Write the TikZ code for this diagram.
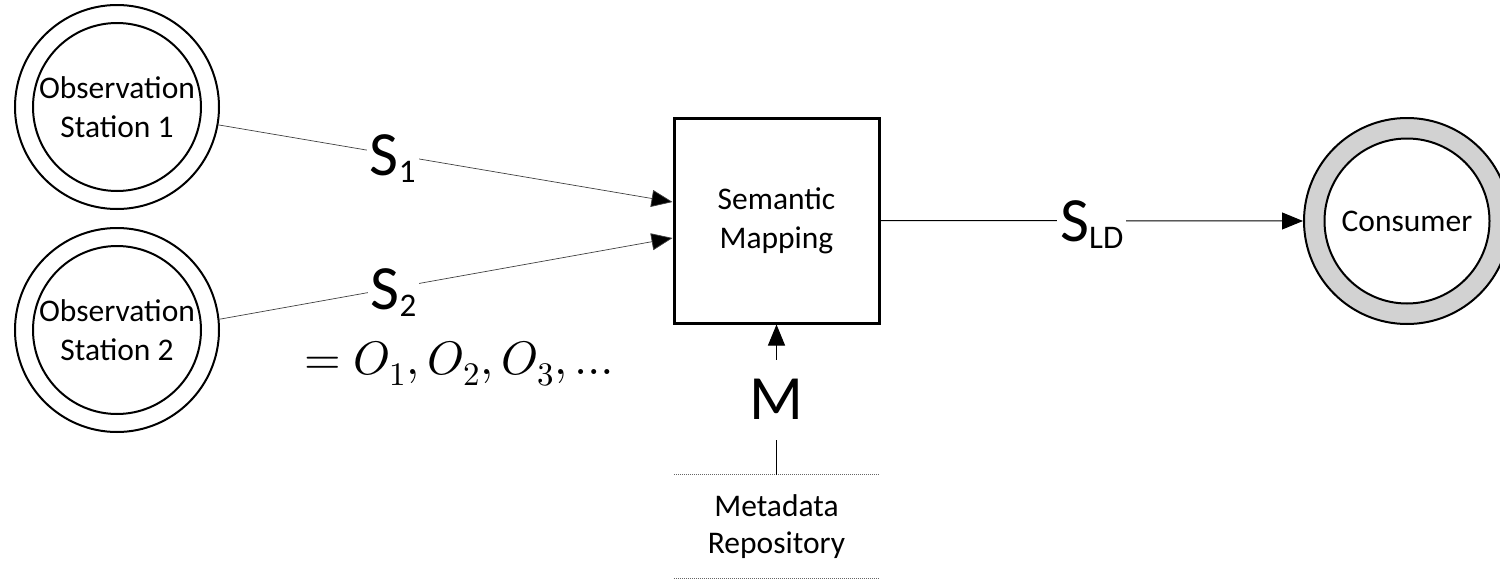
\documentclass[tikz,border=0pt]{standalone}
\usepackage{fontspec}
\usepackage{unicode-math}
\setmainfont{Carlito}
\usetikzlibrary{arrows.meta,calc}

\definecolor{ringgray}{RGB}{210,210,210}
\newcommand\lowsub[1]{\raisebox{-7pt}{\fontsize{33}{33}\selectfont #1}}

\begin{document}
\begin{tikzpicture}[x=1pt,y=-1pt,
  every node/.style={font=\fontsize{31.5}{39}\selectfont, align=center},
  ring/.style={circle, draw, line width=2pt, minimum size=#1, inner sep=0pt},
  procbox/.style={draw, line width=3pt, minimum width=205pt, minimum height=205pt, inner sep=0pt},
  tip/.style={-{Triangle[length=21pt,width=17pt,fill=black]}},
  flow/.style={tip, line width=1pt},
  thinflow/.style={tip, line width=0.7pt, draw=black!75},
  slabel/.style={fill=white, inner sep=3pt, anchor=base, yshift=-21pt, font=\fontsize{63}{63}\selectfont},
  mlabel/.style={fill=white, inner sep=0pt, minimum height=80pt, font=\fontsize{63}{63}\selectfont},
  storeline/.style={densely dotted, draw=black!60, line width=1pt}
]
\useasboundingbox (0,0) rectangle (1500,581);

% observation stations (double circles)
\node[ring=204pt] (st1) at (117,107) {};
\node[ring=168pt] (st1in) at (117,107) {Observation\\Station 1};
\node[ring=204pt] (st2) at (117,330) {};
\node[ring=168pt] (st2in) at (117,330) {Observation\\Station 2};

% mapping process
\node[procbox] (map) at (776.5,220.5) {Semantic\\Mapping};
\coordinate (in1) at ($(map.west)+(0,-18.5)$);
\coordinate (in2) at ($(map.west)+(0,17.5)$);

% consumer (shaded double circle)
\node[ring=206pt, fill=ringgray] (cons) at (1407,221) {};
\node[ring=165pt, fill=white] (consin) at (1407,221) {Consumer};

% metadata repository (data store)
\node[minimum width=205pt, minimum height=103pt, inner sep=0pt,
      font=\fontsize{31.5}{37}\selectfont] (repo) at (776.5,526.5) {Metadata\\Repository};
\draw[storeline] (repo.north west) -- (repo.north east);
\draw[storeline] (repo.south west) -- (repo.south east);

% streams
\draw[thinflow] (st1.-10.5) -- node[slabel, pos=0.384] {S\lowsub{1}} (in1);
\draw[thinflow] (st2.6.6) -- node[slabel, pos=0.384] {S\lowsub{2}} (in2);
\draw[flow] (map.east) -- node[slabel, pos=0.5] {S\lowsub{LD}} (cons.west);
\draw[flow] (repo.north) -- node[mlabel] {M} (map.south);

% stream content
\node[anchor=base west, inner sep=0pt, font=\fontsize{47}{47}\selectfont] (obs) at (304,374) {$= O_1, O_2, O_3, \ldots$};
\end{tikzpicture}
\end{document}
